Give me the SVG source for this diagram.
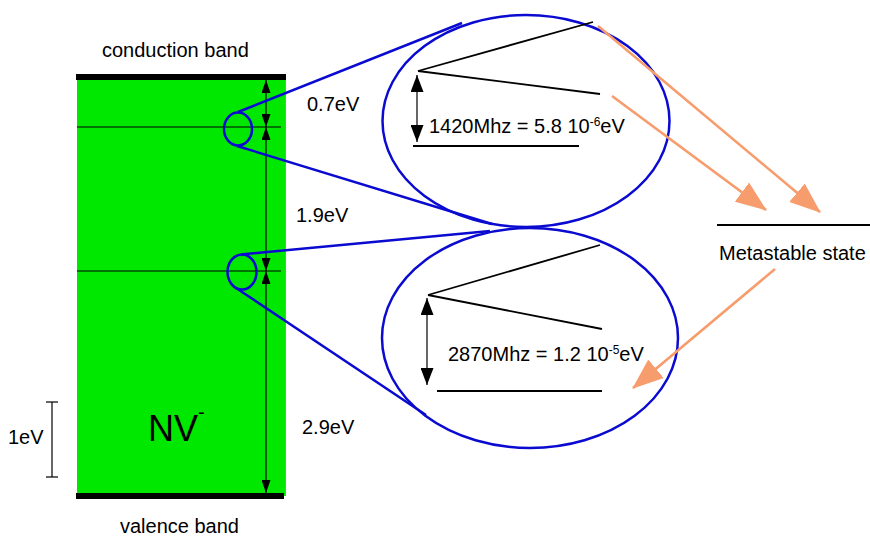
<svg xmlns="http://www.w3.org/2000/svg" width="870" height="541" viewBox="0 0 870 541">
<style>
text{font-family:"Liberation Sans",Arial,sans-serif;fill:#000}
.lbl{font-size:20px}
.sup{font-size:12px}
.blue{fill:none;stroke:#0a0ad0;stroke-width:2.5}
.thin{stroke:#000;stroke-width:1.2;fill:none}
.lvl{stroke:#000;stroke-width:1.8;fill:none}
.orange{stroke:#f79c6c;stroke-width:2.6;fill:none;marker-end:url(#oh)}
</style>
<defs>
<marker id="ah" markerUnits="userSpaceOnUse" markerWidth="14" markerHeight="9" refX="13" refY="4.5" orient="auto-start-reverse"><path d="M0,0 L13,4.5 L0,9 z" fill="#000"/></marker>
<marker id="ahL" markerUnits="userSpaceOnUse" markerWidth="18" markerHeight="13" refX="17" refY="6.5" orient="auto-start-reverse"><path d="M0,0 L17,6.5 L0,13 z" fill="#000"/></marker>
<marker id="oh" markerUnits="userSpaceOnUse" markerWidth="32" markerHeight="24" refX="30" refY="12" orient="auto"><path d="M0,0 L31,12 L0,24 z" fill="#f79c6c"/></marker>
</defs>

<g id="band-diagram">
<rect x="77" y="77" width="208" height="419" fill="#00e800"/>
<line x1="285.5" y1="78" x2="285.5" y2="496" stroke="#8a9a8a" stroke-width="1"/>
<rect x="76" y="74" width="210" height="6" fill="#000"/>
<rect x="76" y="493" width="208" height="6" fill="#000"/>
<line class="thin" x1="77" y1="127" x2="281" y2="127"/>
<line class="thin" x1="77" y1="271" x2="281" y2="271"/>
<text x="148" y="441" style="font-size:36px">NV<tspan class="sup" style="font-size:20px" dy="-22">-</tspan></text>
</g>

<g id="conduction-label"><text class="lbl" x="102" y="57">conduction band</text></g>
<g id="valence-label"><text class="lbl" x="120" y="533">valence band</text></g>

<g id="scale-bar">
<line class="thin" x1="52" y1="402" x2="52" y2="477"/>
<line class="thin" x1="46" y1="402" x2="58" y2="402"/>
<line class="thin" x1="46" y1="477" x2="58" y2="477"/>
<text class="lbl" x="8" y="444">1eV</text>
</g>

<g id="energy-arrows">
<line class="thin" x1="266" y1="80" x2="266" y2="127" marker-start="url(#ah)" marker-end="url(#ah)"/>
<line class="thin" x1="266" y1="127" x2="266" y2="271" marker-start="url(#ah)" marker-end="url(#ah)"/>
<line class="thin" x1="266" y1="271" x2="266" y2="493" marker-start="url(#ah)" marker-end="url(#ah)"/>
<text class="lbl" x="307" y="111">0.7eV</text>
<text class="lbl" x="296" y="222">1.9eV</text>
<text class="lbl" x="302" y="434">2.9eV</text>
</g>

<g id="upper-zoom">
<ellipse class="blue" cx="238" cy="129" rx="14" ry="16.5"/>
<line class="blue" x1="238" y1="112" x2="462" y2="23"/>
<line class="blue" x1="237" y1="146" x2="492" y2="224"/>
<ellipse class="blue" cx="526" cy="121" rx="143.5" ry="106"/>
<line class="lvl" x1="418" y1="71" x2="593" y2="22"/>
<line class="lvl" x1="418" y1="71" x2="600" y2="94"/>
<line class="lvl" x1="413" y1="146" x2="579" y2="146"/>
<line class="thin" x1="417" y1="75" x2="417" y2="142" marker-start="url(#ahL)" marker-end="url(#ahL)"/>
<text class="lbl" x="429" y="133">1420Mhz = 5.8 10<tspan class="sup" dy="-7">-6</tspan><tspan dy="7">eV</tspan></text>
</g>

<g id="lower-zoom">
<ellipse class="blue" cx="242" cy="272" rx="14.5" ry="17.5"/>
<line class="blue" x1="241" y1="254.5" x2="490" y2="231"/>
<line class="blue" x1="236" y1="288" x2="426" y2="415"/>
<ellipse class="blue" cx="530" cy="338" rx="148" ry="110"/>
<line class="lvl" x1="428" y1="295" x2="600" y2="245"/>
<line class="lvl" x1="428" y1="295" x2="602" y2="329"/>
<line class="lvl" x1="437" y1="391" x2="602" y2="391"/>
<line class="thin" x1="427" y1="298" x2="427" y2="385" marker-start="url(#ahL)" marker-end="url(#ahL)"/>
<text class="lbl" x="448" y="361">2870Mhz = 1.2 10<tspan class="sup" dy="-7">-5</tspan><tspan dy="7">eV</tspan></text>
</g>

<g id="metastable-state">
<line class="lvl" x1="717" y1="225" x2="870" y2="225"/>
<text class="lbl" x="719" y="260">Metastable state</text>
</g>

<g id="connectors">
<line class="orange" x1="598" y1="26" x2="820" y2="212"/>
<line class="orange" x1="612" y1="96" x2="766" y2="210"/>
<line class="orange" x1="775" y1="269" x2="633" y2="388"/>
</g>
</svg>
